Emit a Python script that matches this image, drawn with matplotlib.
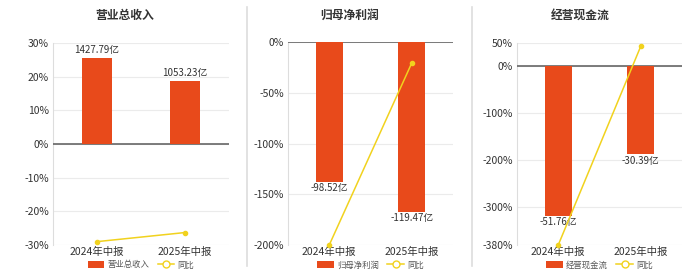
import matplotlib
matplotlib.use("Agg")
import matplotlib.pyplot as plt
from matplotlib.patches import Patch
from matplotlib.lines import Line2D

plt.rcParams['font.family'] = ['Noto Sans CJK SC', 'DejaVu Sans']

categories = ["2024年中报", "2025年中报"]
titles = ["营业总收入", "归母净利润", "经营现金流"]

bar_values = [[1427.79, 1053.23], [-98.52, -119.47], [-51.76, -30.39]]
bar_labels = [["1427.79亿", "1053.23亿"], ["-98.52亿", "-119.47亿"], ["-51.76亿", "-30.39亿"]]
yoy_values = [[-29.0, -26.3], [-200.0, -20.7], [-380.0, 43.0]]

y_ticks = [[30, 20, 10, 0, -10, -20, -30], [0, -50, -100, -150, -200], [50, 0, -100, -200, -300, -380]]
y_limits = [(-30, 30), (-200, 0), (-380, 50)]
# percent position of the first bar end, used to align the bar axis with the percent axis
bar_ref_pct = [25.5, -138.0, -318.0]

bar_color = "#E84A1B"
line_color = "#F1D21E"

W, H = 700, 272
fig = plt.figure(figsize=(7, 2.72), dpi=100)

boxes = [(53, 229, 43, 245), (288, 453, 42, 245), (517, 682, 43, 245)]
title_x = [125, 350, 580]

for i in range(3):
    l, r, t, b = boxes[i]
    ax = fig.add_axes([l / W, (H - b) / H, (r - l) / W, (b - t) / H])
    lo, hi = y_limits[i]
    ax.set_ylim(lo, hi)
    ax.set_xlim(-0.5, 1.5)
    ax.set_yticks(y_ticks[i])
    ax.set_yticklabels([f"{v}%" for v in y_ticks[i]], fontsize=7.5, color="#333333")
    ax.set_xticks(range(2))
    ax.set_xticklabels(categories, fontsize=7.5, color="#333333")
    ax.tick_params(axis="both", length=0, pad=3)
    ax.tick_params(axis="x", pad=1)
    for v in y_ticks[i]:
        ax.axhline(v, color="#EBEBEB", lw=0.8, zorder=0)
    ax.axhline(0, color="#666666", lw=1.2, zorder=3)
    for s in ["top", "right", "bottom"]:
        ax.spines[s].set_visible(False)
    ax.spines["left"].set_color("#DDDDDD")

    ax2 = ax.twinx()
    scale = bar_values[i][0] / bar_ref_pct[i]
    ax2.set_ylim(lo * scale, hi * scale)
    ax2.axis("off")
    ax2.bar(range(2), bar_values[i], width=0.33, color=bar_color, zorder=2)
    for j, v in enumerate(bar_values[i]):
        va = "bottom" if v > 0 else "top"
        off = 2 if v > 0 else -1
        ax2.annotate(bar_labels[i][j], (j, v), xytext=(0, off), textcoords="offset points",
                     ha="center", va=va, fontsize=7, color="#333333")

    ax3 = ax.twinx()
    ax3.set_ylim(lo, hi)
    ax3.axis("off")
    ax3.plot(range(2), yoy_values[i], color=line_color, lw=1.1, marker="o", ms=3,
             clip_on=False, zorder=4)

    fig.text(title_x[i] / W, 1 - 15 / H, titles[i], ha="center", va="center",
             fontsize=8.5, fontweight="bold", color="#333333")

    handles = [Patch(facecolor=bar_color, edgecolor="none"),
               Line2D([0], [0], color=line_color, lw=1.1, marker="o", ms=5,
                      markerfacecolor="white", markeredgecolor=line_color)]
    fig.legend(handles, [titles[i], "同比"], loc="center",
               bbox_to_anchor=((l + r) / 2 / W, 1 - 265 / H), ncol=2, frameon=False,
               fontsize=6, handlelength=2.0, handleheight=0.8, columnspacing=1.0,
               handletextpad=0.4, labelcolor="#555555", borderpad=0.1)

for x in [247, 472]:
    fig.add_artist(Line2D([x / W, x / W], [1 - 7 / H, 1 - 266 / H], color="#DDDDDD", lw=1.2))

fig.savefig("out.png", dpi=100, facecolor="white")
